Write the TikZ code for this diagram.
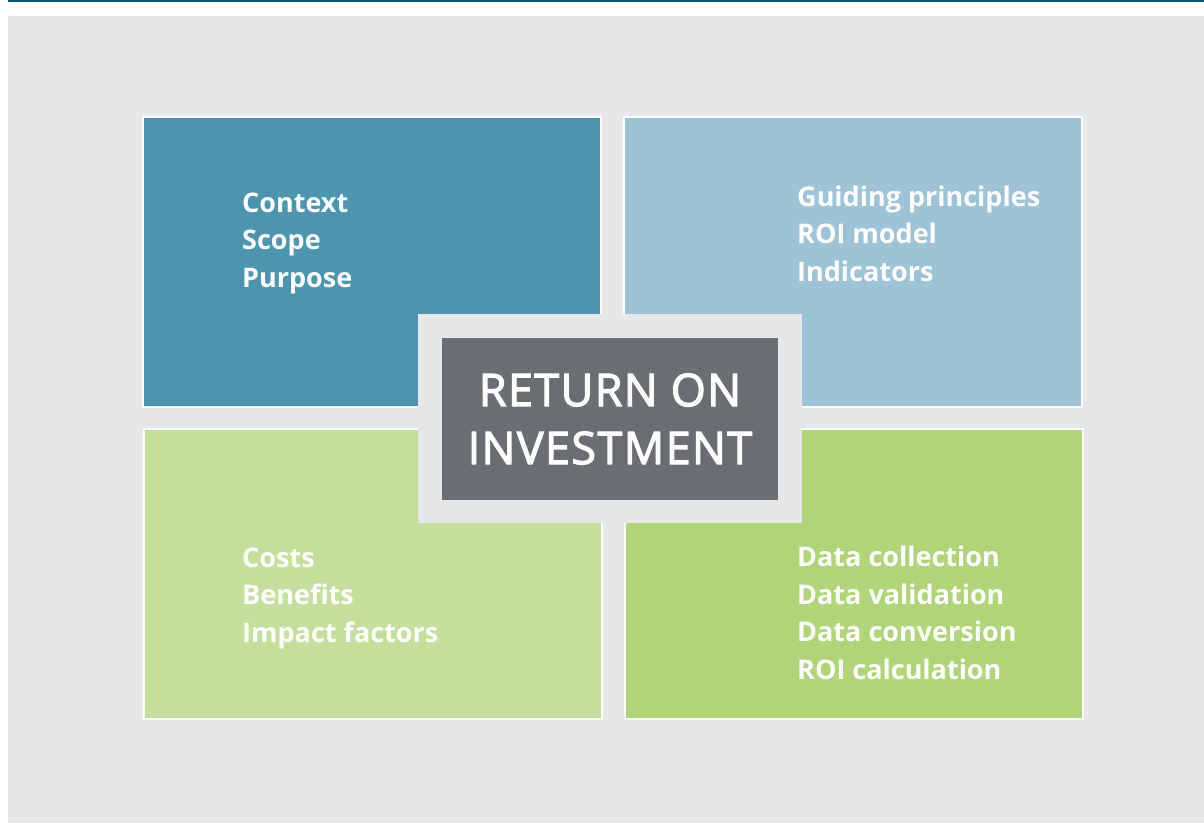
\documentclass[tikz,border=0pt]{standalone}
\usepackage{fontspec}
\setmainfont{Open Sans}
\newfontfamily\titlefont[LetterSpace=3,FakeBold=2.5]{Open Sans}
\usetikzlibrary{positioning}

\definecolor{pagegray}{HTML}{E6E7E8}
\definecolor{rule}{HTML}{0B566C}
\definecolor{steelblue}{HTML}{4D94B0}
\definecolor{paleblue}{HTML}{9DC3D6}
\definecolor{palegreen}{HTML}{C4DF9B}
\definecolor{leafgreen}{HTML}{B0D47A}
\definecolor{slate}{HTML}{6A6D72}

\begin{document}
\begin{tikzpicture}[x=1pt,y=-1pt,
	quadrant/.style={draw=white,line width=2pt,anchor=north west,inner sep=0pt,
		minimum width=458pt,minimum height=290pt},
	items/.style={anchor=base west,align=left,text=white,inner sep=0pt,
		font=\bfseries\fontsize{27}{37.5}\selectfont}]

	% page and top rule
	\useasboundingbox (0,0) rectangle (1204,823);
	\fill[white] (0,0) rectangle (1204,823);
	\fill[pagegray] (8,16) rectangle (1204,823);
	\draw[rule,line width=2pt] (8,1) -- (1204,1);

	% four quadrants
	\node[quadrant,fill=steelblue] (plan)     at (142,116) {};
	\node[quadrant,fill=paleblue]  (design)   at (623,116) {};
	\node[quadrant,fill=palegreen] (measure)  at (143,428) {};
	\node[quadrant,fill=leafgreen] (analysis) at (624,428) {};

	% item lists (anchored on the last baseline)
	\node[items] (plantext)     at (242,287) {Context\\Scope\\Purpose};
	\node[items] (designtext)   at (797,281) {Guiding principles\\ROI model\\Indicators};
	\node[items] (measuretext)  at (242,642) {Costs\\Benefits\\Impact factors};
	\node[items] (analysistext) at (797,679) {Data collection\\Data validation\\Data conversion\\ROI calculation};

	% centre label
	\node[fill=pagegray,minimum width=384pt,minimum height=209pt,inner sep=0pt] (frame) at (610,418.5) {};
	\node[fill=slate,minimum width=336pt,minimum height=162pt,inner sep=0pt,align=center,text=white,
		font=\titlefont\fontsize{45}{58}\selectfont] (roi) at (610,419) {RETURN ON\\INVESTMENT};

\end{tikzpicture}
\end{document}
